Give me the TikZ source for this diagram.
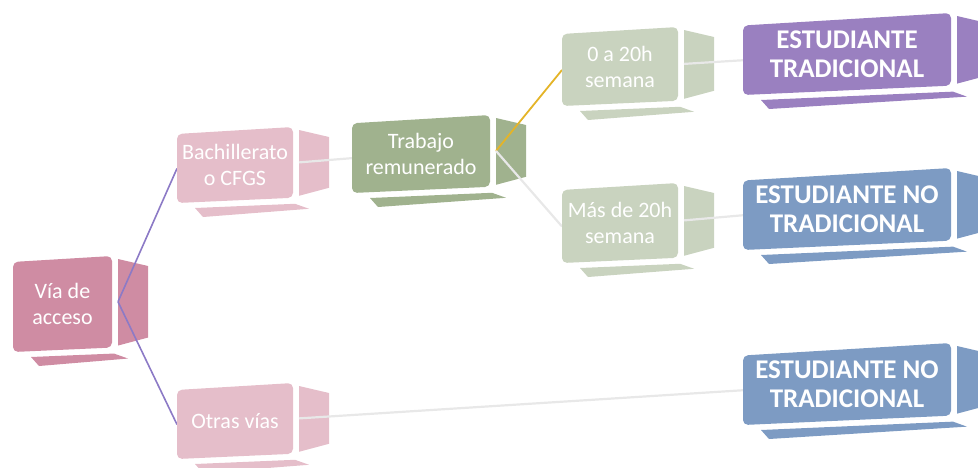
\documentclass[tikz,border=0pt]{standalone}
\usepackage{fontspec}
\setmainfont{Carlito}
\usetikzlibrary{calc}
\definecolor{cvia}{RGB}{207,140,163}
\definecolor{cbach}{RGB}{229,190,202}
\definecolor{ctrab}{RGB}{160,178,142}
\definecolor{chour}{RGB}{201,211,191}
\definecolor{ctrad}{RGB}{154,128,192}
\definecolor{cnotrad}{RGB}{125,155,195}
\definecolor{cpurp}{RGB}{140,122,198}
\definecolor{cgold}{RGB}{228,180,40}
\definecolor{cgry}{RGB}{232,232,232}
\pgfdeclarelayer{panels}
\pgfdeclarelayer{lines}
\pgfdeclarelayer{faces}
\pgfsetlayers{panels,lines,faces,main}
\tikzset{
  txt/.style={inner sep=0pt, outer sep=0pt, text=white, align=center},
  small/.style={font=\fontsize{22}{26}\selectfont},
  big/.style={font=\fontsize{27}{29}\selectfont\bfseries},
  purp/.style={draw=cpurp, line width=1.6pt},
  gry/.style={draw=cgry, line width=2.2pt},
  goldline/.style={draw=cgold, line width=1.8pt}
}
% name, x0, yt, xr, yb, colour, text style, text
\newcommand\cubebox[8]{%
  \pgfmathsetmacro\tt{0.06*(#4-#2)}%
  \pgfmathsetmacro\tb{0.045*(#4-#2)}%
  \node[txt, #7, minimum width={#4-#2}, minimum height={#5-#3}] (#1) at ({(#2+#4)/2},{(#3+#5)/2}) {#8};
  \coordinate (#1-out) at ({#4+6},{(#3+#5-\tb)/2});
  \coordinate (#1-in) at (#2,{(#3+\tt+#5)/2});
  \begin{pgfonlayer}{panels}
    \fill[#6] ({#4+6},{#3+3}) -- ({#4+36},{#3+10}) -- ({#4+36},{#5-\tb-10}) -- ({#4+6},{#5-\tb-2}) -- cycle;
    \fill[#6] ({#2+18},{#5+5}) -- ({#4+2},{#5-\tb+6}) -- ({#4+16},{#5-\tb+11}) -- ({#2+26},{#5+14}) -- cycle;
  \end{pgfonlayer}
  \begin{pgfonlayer}{faces}
    \fill[#6, rounded corners=5pt] (#2,{#3+\tt}) -- (#4,#3) -- (#4,{#5-\tb}) -- (#2,#5) -- cycle;
  \end{pgfonlayer}
}
\begin{document}
\begin{tikzpicture}[x=1pt, y=-1pt]
\useasboundingbox (0,0) rectangle (978,467);
\cubebox{via}{13}{256}{112}{352}{cvia}{small}{Vía de\\acceso}
\cubebox{bach}{177}{127}{293}{203}{cbach}{small}{Bachillerato\\o CFGS}
\cubebox{otras}{177}{383}{293}{459}{cbach}{small}{Otras vías}
\cubebox{trab}{352}{115}{490}{193}{ctrab}{small}{Trabajo\\remunerado}
\cubebox{cero}{562}{27}{678}{106}{chour}{small}{0 a 20h\\semana}
\cubebox{mas}{562}{183}{678}{263}{chour}{small}{Más de 20h\\semana}
\cubebox{trad}{743}{13}{951}{95}{ctrad}{big}{ESTUDIANTE\\TRADICIONAL}
\cubebox{notrada}{743}{168}{951}{250}{cnotrad}{big}{ESTUDIANTE NO\\TRADICIONAL}
\cubebox{notradb}{743}{343}{951}{425}{cnotrad}{big}{ESTUDIANTE NO\\TRADICIONAL}
\begin{pgfonlayer}{lines}
  \draw[purp] (via-out) -- (bach-in);
  \draw[purp] (via-out) -- (otras-in);
  \draw[gry] (bach-out) -- (trab-in);
  \draw[goldline] (trab-out) -- (cero-in);
  \draw[gry] (trab-out) -- (mas-in);
  \draw[gry] (cero-out) -- (trad-in);
  \draw[gry] (mas-out) -- (notrada-in);
  \draw[gry] (otras-out) -- (notradb-in);
\end{pgfonlayer}
\end{tikzpicture}
\end{document}
